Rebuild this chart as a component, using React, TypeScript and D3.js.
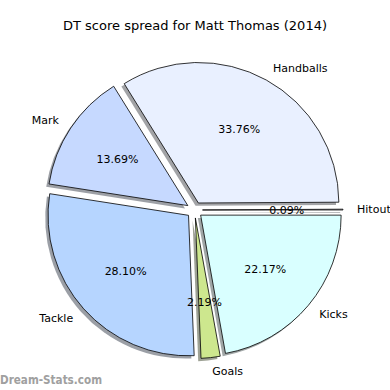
import React from 'react';
import * as d3 from 'd3';

const categories = ['Hitout', 'Handballs', 'Mark', 'Tackle', 'Goals', 'Kicks'];
const values = [0.09, 33.76, 13.69, 28.10, 2.19, 22.17];
const colors = ['#f0f0ff', '#e9f0ff', '#c6d9ff', '#b6d5ff', '#cde78e', '#d9ffff'];

const width = 390, height = 390;
const cx = 194.5, cy = 210;
const R = 140.5;
const explode = 8;
const shadowOff = 2.8;

const App = () => {
  // matplotlib style: start at 3 o'clock, go counterclockwise
  const pie = d3.pie<number>()
    .sort(null)
    .startAngle(Math.PI / 2)
    .endAngle(Math.PI / 2 - 2 * Math.PI);
  const arcs = pie(values);
  const arc = d3.arc<d3.PieArcDatum<number>>().innerRadius(0).outerRadius(R);

  const items = arcs.map((a, i) => {
    const mid = (a.startAngle + a.endAngle) / 2;
    const dx = Math.sin(mid), dy = -Math.cos(mid);
    const ox = cx + dx * explode, oy = cy + dy * explode;
    const base = d3.rgb(colors[i]);
    const shadow = d3.rgb(base.r * 0.3, base.g * 0.3, base.b * 0.3).toString();
    return { a, i, dx, dy, ox, oy, shadow };
  });

  return (
    <svg width={width} height={height}
      style={{ position: 'absolute', left: 0, top: 0 }}
      fontFamily="DejaVu Sans, sans-serif">
      <rect width={width} height={height} fill="#fff" />
      <text x={195} y={30} textAnchor="middle" fontSize={13} fill="#000">
        DT score spread for Matt Thomas (2014)
      </text>
      {items.map(d => (
        <path key={'s' + d.i} d={arc(d.a) || ''}
          transform={`translate(${d.ox - shadowOff},${d.oy + shadowOff})`}
          fill={d.shadow} fillOpacity={0.5} />
      ))}
      {items.map(d => (
        <path key={'w' + d.i} d={arc(d.a) || ''}
          transform={`translate(${d.ox},${d.oy})`}
          fill={colors[d.i]} stroke="#000" strokeWidth={0.8} />
      ))}
      {items.map(d => {
        const lx = d.ox + d.dx * R * 1.1, ly = d.oy + d.dy * R * 1.1;
        const px = d.ox + d.dx * R * 0.6, py = d.oy + d.dy * R * 0.6;
        return (
          <g key={'t' + d.i} fontSize={11} fill="#000">
            <text x={lx} y={ly} dy="0.35em" textAnchor={d.dx > 0 ? 'start' : 'end'}>
              {categories[d.i]}
            </text>
            <text x={px} y={py} dy="0.35em" textAnchor="middle">
              {values[d.i].toFixed(2)}%
            </text>
          </g>
        );
      })}
      <text x={0} y={384} fontSize={13} fontWeight="bold" fill="#a0a0a0"
        fontFamily="DejaVu Sans Condensed, DejaVu Sans, sans-serif"
        textLength={102} lengthAdjust="spacingAndGlyphs">Dream-Stats.com</text>
    </svg>
  );
};

export default App;
